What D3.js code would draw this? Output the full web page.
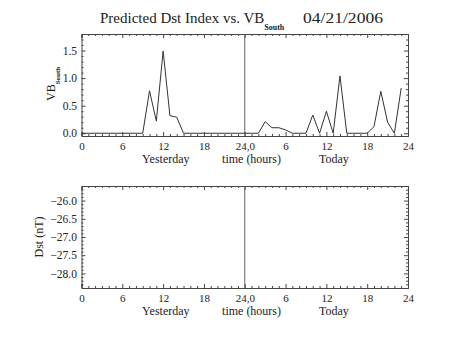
<!DOCTYPE html>
<html>
<head>
<meta charset="utf-8">
<script src="https://cdn.jsdelivr.net/npm/d3@7"></script>
<style>
  html, body { margin: 0; padding: 0; background: #fff; }
  svg { display: block; }
  text { font-family: "Liberation Serif", "DejaVu Serif", serif; fill: #222; }
</style>
</head>
<body>
<svg id="chart" width="453" height="340"></svg>
<script>
// Hourly southward VB over two days (0-23 yesterday, 24-47 today)
const hours = d3.range(0, 48);
const vbSouth = [
  0, 0, 0, 0, 0, 0, 0, 0, 0, 0,
  0.77, 0.22, 1.49, 0.32, 0.29, 0,
  0, 0, 0, 0, 0, 0, 0, 0,
  0, 0, 0, 0.21, 0.10, 0.10, 0.06, 0, 0, 0,
  0.33, 0, 0.40, 0, 1.04, 0, 0, 0, 0,
  0.12, 0.76, 0.20, 0, 0.82
];
// Predicted Dst: no values available for this date
const dstPredicted = [];

const xTickValues = [0, 6, 12, 18, 24, 30, 36, 42, 48];
const xTickLabels = ["0", "6", "12", "18", "24,0", "6", "12", "18", "24"];
const vbTickValues = [0.0, 0.5, 1.0, 1.5];
const dstTickValues = [-26.0, -26.5, -27.0, -27.5, -28.0];
const dayLabels = ["Yesterday", "time (hours)", "Today"];
const dayLabelHours = [12.4, 25, 37.1];

const svg = d3.select("#chart");
const left = 81.5, right = 408;
const axisColor = "#444";

const x = d3.scaleLinear().domain([0, 48]).range([left, right]);

function panel(top, bottom, yDomain, yTicks, yFmt, yMinorStep) {
  const y = d3.scaleLinear().domain(yDomain).range([bottom, top]);
  const g = svg.append("g");
  const fmtX = (d) => xTickLabels[xTickValues.indexOf(d)];
  const xMinor = d3.range(0, 48.01, 1).filter(h => h % 6 !== 0);
  const yMinor = d3.range(Math.ceil(yDomain[0] / yMinorStep) * yMinorStep, yDomain[1], yMinorStep)
    .map(v => Math.round(v * 100) / 100)
    .filter(v => !yTicks.some(t => Math.abs(t - v) < 1e-6));

  // bottom axis with labels
  g.append("g").attr("transform", `translate(0,${bottom})`)
    .call(d3.axisBottom(x).tickValues(xTickValues).tickFormat(fmtX).tickSize(-4).tickPadding(5.7))
    .call(a => a.selectAll("text").attr("font-size", 11).attr("font-family", "Liberation Serif").attr("fill", "#222"));
  g.append("g").attr("transform", `translate(0,${bottom})`)
    .call(d3.axisBottom(x).tickValues(xMinor).tickFormat("").tickSize(-2))
    .call(a => a.select(".domain").remove());
  // top axis (mirror)
  g.append("g").attr("transform", `translate(0,${top})`)
    .call(d3.axisTop(x).tickValues(xTickValues).tickFormat("").tickSize(-4));
  g.append("g").attr("transform", `translate(0,${top})`)
    .call(d3.axisTop(x).tickValues(xMinor).tickFormat("").tickSize(-2))
    .call(a => a.select(".domain").remove());
  // left axis with labels
  g.append("g").attr("transform", `translate(${left},0)`)
    .call(d3.axisLeft(y).tickValues(yTicks).tickFormat(yFmt).tickSize(-4).tickPadding(4.5))
    .call(a => a.selectAll("text").attr("font-size", 11.5).attr("font-family", "Liberation Serif").attr("fill", "#222"));
  g.append("g").attr("transform", `translate(${left},0)`)
    .call(d3.axisLeft(y).tickValues(yMinor).tickFormat("").tickSize(-2))
    .call(a => a.select(".domain").remove());
  // right axis (mirror)
  g.append("g").attr("transform", `translate(${right},0)`)
    .call(d3.axisRight(y).tickValues(yTicks).tickFormat("").tickSize(-4));
  g.append("g").attr("transform", `translate(${right},0)`)
    .call(d3.axisRight(y).tickValues(yMinor).tickFormat("").tickSize(-2))
    .call(a => a.select(".domain").remove());
  g.selectAll(".domain").attr("stroke", axisColor);
  g.selectAll(".tick line").attr("stroke", axisColor);

  // day divider at midnight
  g.append("line")
    .attr("x1", x(24)).attr("x2", x(24))
    .attr("y1", top).attr("y2", bottom)
    .attr("stroke", "#666").attr("stroke-width", 1);

  // day / axis title labels
  g.selectAll("text.day").data(dayLabels).enter().append("text")
    .attr("class", "day")
    .attr("x", (d, i) => x(dayLabelHours[i]))
    .attr("y", bottom + 27)
    .attr("text-anchor", "middle")
    .attr("font-size", 12)
    .text(d => d);
  return { g, y };
}

// Upper panel: VB south
const p1 = panel(34, 136, [-0.05, 1.8], vbTickValues, d3.format(".1f"), 0.1);
const line = d3.line().x((d, i) => x(hours[i])).y(d => p1.y(d));
p1.g.append("path")
  .datum(vbSouth)
  .attr("fill", "none")
  .attr("stroke", "#333")
  .attr("stroke-width", 1)
  .attr("stroke-linejoin", "round")
  .attr("d", line);

// Lower panel: predicted Dst
const p2 = panel(186, 288, [-28.4, -25.6], dstTickValues,
  d => d3.format(".1f")(d).replace("-", "\u2212"), 0.1);
if (dstPredicted.length) {
  p2.g.append("path").datum(dstPredicted)
    .attr("fill", "none").attr("stroke", "#333")
    .attr("d", d3.line().x((d, i) => x(hours[i])).y(d => p2.y(d)));
}

// Title
const title = svg.append("text").attr("x", 100).attr("y", 23).attr("font-size", 15);
title.append("tspan").text("Predicted Dst Index vs. VB");
title.append("tspan").attr("dy", 7).attr("font-size", 8).attr("font-weight", "bold").text("South");
svg.append("text").attr("x", 303).attr("y", 23).attr("font-size", 15)
  .attr("textLength", 80).attr("lengthAdjust", "spacingAndGlyphs").text("04/21/2006");

// Y axis titles
const yt1 = svg.append("text")
  .attr("transform", "translate(55,101) rotate(-90)")
  .attr("font-size", 12);
yt1.append("tspan").text("VB");
yt1.append("tspan").attr("dy", 5).attr("font-size", 7).attr("font-weight", "bold").text("South");

svg.append("text")
  .attr("transform", "translate(43,237) rotate(-90)")
  .attr("text-anchor", "middle")
  .attr("font-size", 12)
  .text("Dst (nT)");
</script>
</body>
</html>
